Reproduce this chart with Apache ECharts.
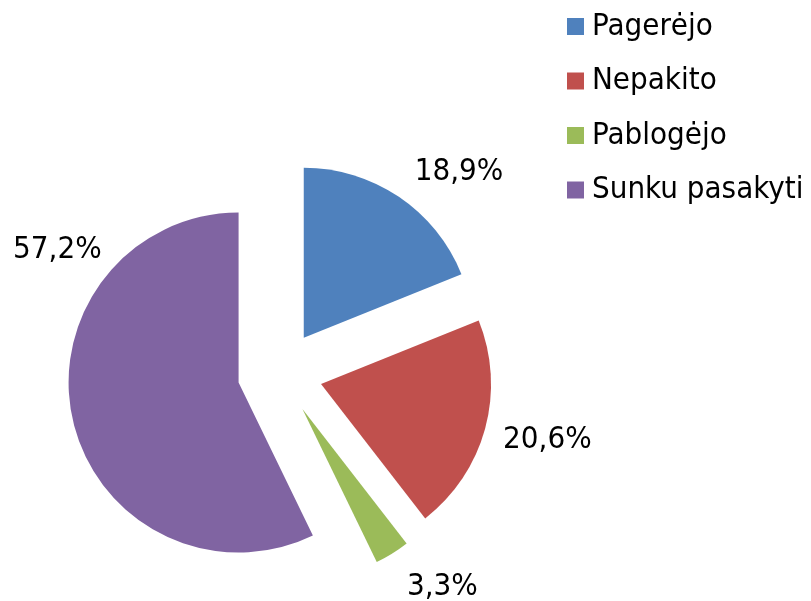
<!DOCTYPE html>
<html>
<head>
<meta charset="utf-8">
<script src="https://cdn.jsdelivr.net/npm/echarts@6/dist/echarts.min.js"></script>
<style>
html,body{margin:0;padding:0;background:#fff;}
#chart{width:811px;height:601px;}
</style>
</head>
<body>
<div id="chart"></div>
<script>
var categories = ['Pagerėjo', 'Nepakito', 'Pablogėjo', 'Sunku pasakyti'];
var values = [18.9, 20.6, 3.3, 57.2];
var colors = ['#4F81BD', '#C0504D', '#9BBB59', '#8064A2'];

var FONT = "'DejaVu Sans Condensed', 'Liberation Sans', sans-serif";
// label nudges (style only), relative to ECharts' default outside label spot
var labelShift = [[-1, 0], [-11, 4], [-1, 8], [58, -177]];

var chart = echarts.init(document.getElementById('chart'), null, {renderer: 'canvas'});

var pieData = categories.map(function (c, i) {
  return { name: c, value: values[i], selected: true, itemStyle: { color: colors[i] } };
});

chart.setOption({
  animation: false,
  backgroundColor: '#ffffff',
  legend: {
    orient: 'vertical',
    left: 567,
    top: 11,
    padding: 0,
    itemWidth: 17,
    itemHeight: 17,
    itemGap: 23.5,
    icon: 'rect',
    selectedMode: false,
    textStyle: { fontFamily: FONT, fontSize: 31, color: '#000', lineHeight: 31, padding: [0, 0, 0, 3] },
    data: categories
  },
  series: [{
    type: 'pie',
    center: [280, 373],
    radius: 170,
    startAngle: 90,
    clockwise: true,
    selectedMode: 'multiple',
    selectedOffset: 42.5,
    avoidLabelOverlap: false,
    silent: true,
    label: {
      show: true,
      position: 'outside',
      fontFamily: FONT,
      fontSize: 31,
      color: '#000',
      distanceToLabelLine: 0,
      formatter: function (p) { return p.value.toFixed(1).replace('.', ',') + '%'; }
    },
    labelLine: { show: false, length: 30, length2: 0 },
    labelLayout: function (p) {
      var s = labelShift[p.dataIndex] || [0, 0];
      return { dx: s[0], dy: s[1] };
    },
    emphasis: { disabled: true },
    data: pieData
  }]
});
</script>
</body>
</html>
